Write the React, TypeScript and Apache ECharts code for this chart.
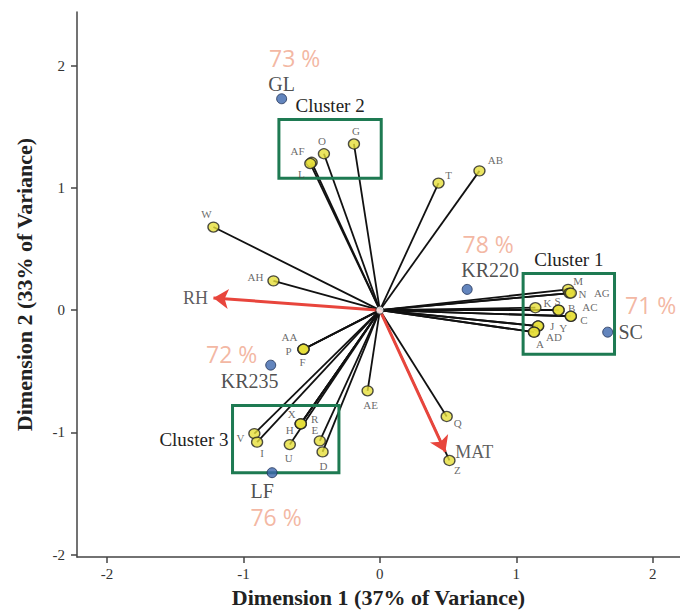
import React, { useEffect, useRef } from 'react';
import * as echarts from 'echarts';

// ---------- data ----------
const pointNames = ['G','O','AF','L','T','AB','W','AH','AA','P','F','AE','Q','Z','M','N','AG','K','S','B','AC','C','J','Y','AD','A','V','I','X','H','R','E','U','D'];
const dim1 = [-0.19,-0.41,-0.50,-0.51,0.43,0.73,-1.22,-0.78,-0.56,-0.56,-0.56,-0.09,0.49,0.51,1.38,1.39,1.40,1.14,1.31,1.31,1.40,1.40,1.16,1.16,1.13,1.13,-0.92,-0.90,-0.58,-0.58,-0.58,-0.44,-0.66,-0.42];
const dim2 = [1.36,1.28,1.21,1.20,1.04,1.14,0.68,0.24,-0.32,-0.32,-0.32,-0.66,-0.87,-1.23,0.17,0.14,0.14,0.02,0.00,0.00,-0.05,-0.05,-0.13,-0.13,-0.18,-0.18,-1.01,-1.08,-0.93,-0.93,-0.93,-1.07,-1.10,-1.16];

const siteNames = ['GL','KR220','SC','KR235','LF'];
const siteDim1 = [-0.72,0.64,1.67,-0.80,-0.79];
const siteDim2 = [1.73,0.17,-0.18,-0.45,-1.33];
const sitePercent = ['73 %','78 %','71 %','72 %','76 %'];

const vectorNames = ['RH','MAT'];
const vectorDim1 = [-1.22,0.48];
const vectorDim2 = [0.10,-1.16];

const clusterNames = ['Cluster 1','Cluster 2','Cluster 3'];
const clusterX0 = [1.05,-0.74,-1.08];
const clusterX1 = [1.72,0.01,-0.30];
const clusterY0 = [-0.36,1.08,-1.33];
const clusterY1 = [0.30,1.56,-0.78];

const axisTicks = [-2,-1,0,1,2];

// ---------- label placement (pixel offsets, style only) ----------
const pointLabelOffset: Record<string, [number, number]> = {
  G:[2,-13], O:[-2,-13], AF:[-14,-11], L:[-9,10], T:[10,-8], AB:[16,-11],
  W:[-7,-13], AH:[-18,-4], AA:[-14,-12], P:[-15,2], F:[-1,13], AE:[3,14],
  Q:[11,7], Z:[8,10], M:[10,-8], N:[13,1], AG:[31,0], K:[12,-5], S:[-1,-9],
  B:[13,-2], AC:[19,-9], C:[13,4], J:[14,0], Y:[25,2], AD:[20,5], A:[6,12],
  V:[-14,4], I:[5,11], X:[-9,-10], H:[-11,6], R:[14,-5], E:[-5,-11], U:[-1,13], D:[1,14],
};
const siteLabelOffset: [number, number][] = [[0,-15],[23,-19],[23,0],[-21,16],[-10,18]];
const percentOffset: [number, number][] = [[13,-41],[21,-45],[43,-27],[-39,-11],[4,44]];
const vectorLabelOffset: [number, number][] = [[-18,0],[29,0]];
const clusterLabelSide = ['top','top','left'];

const SERIF = '"Liberation Serif", "DejaVu Serif", serif';
const SANS = '"Open Sans", "DejaVu Sans", sans-serif';

export default function App() {
  const ref = useRef<HTMLDivElement>(null);
  useEffect(() => {
    if (!ref.current) return;
    const chart = echarts.init(ref.current, null, { renderer: 'svg' });

    const textOnly = {
      type: 'scatter', symbol: 'circle', symbolSize: 1, silent: true,
      itemStyle: { color: 'rgba(0,0,0,0)', borderWidth: 0 },
    };

    const option: any = {
      animation: false,
      backgroundColor: '#ffffff',
      grid: { left: 77, right: 0, top: 12, bottom: 55, outerBoundsMode: 'none', containLabel: false },
      xAxis: {
        type: 'value', min: -2.22, max: 2.2,
        name: 'Dimension 1 (37% of Variance)', nameLocation: 'middle', nameGap: 29,
        nameTextStyle: { fontFamily: SERIF, fontWeight: 'bold', fontSize: 22, color: '#222' },
        axisLine: { show: true, onZero: false, lineStyle: { color: '#444', width: 1.5 } },
        axisTick: { show: true, length: 6, customValues: axisTicks, lineStyle: { color: '#444', width: 1.5 } },
        axisLabel: { customValues: axisTicks, margin: 9, fontFamily: SERIF, fontSize: 15, color: '#333' },
        splitLine: { show: false },
      },
      yAxis: {
        type: 'value', min: -2.02, max: 2.44,
        name: 'Dimension 2 (33% of Variance)', nameLocation: 'middle', nameGap: 42,
        nameTextStyle: { fontFamily: SERIF, fontWeight: 'bold', fontSize: 22, color: '#222' },
        axisLine: { show: true, onZero: false, lineStyle: { color: '#444', width: 1.5 } },
        axisTick: { show: true, length: 6, customValues: axisTicks, lineStyle: { color: '#444', width: 1.5 } },
        axisLabel: { customValues: axisTicks, margin: 12, fontFamily: SERIF, fontSize: 15, color: '#333' },
        splitLine: { show: false },
      },
      series: [
        {
          type: 'lines', coordinateSystem: 'cartesian2d', silent: true, z: 2,
          lineStyle: { color: '#111', width: 1.8, opacity: 1 },
          data: pointNames.map((n, i) => ({ coords: [[0, 0], [dim1[i], dim2[i]]] })),
        },
        {
          type: 'custom', z: 3, silent: true,
          data: clusterNames.map((n, i) => [clusterX0[i], clusterY0[i], clusterX1[i], clusterY1[i], i]),
          renderItem: (params: any, api: any) => {
            const p0 = api.coord([api.value(0), api.value(3)]);
            const p1 = api.coord([api.value(2), api.value(1)]);
            const idx = api.value(4);
            const side = clusterLabelSide[idx];
            const w = p1[0] - p0[0];
            const h = p1[1] - p0[1];
            const tx = side === 'left' ? p0[0] - 4 : p0[0] + w / 2;
            const ty = side === 'left' ? p0[1] + h / 2 : p0[1] - 14;
            return {
              type: 'group',
              children: [
                { type: 'rect', shape: { x: p0[0], y: p0[1], width: w, height: h },
                  style: { fill: 'none', stroke: '#1E7A52', lineWidth: 3 } },
                { type: 'text', x: tx, y: ty,
                  style: { text: clusterNames[idx], fill: '#222', font: `19px ${SERIF}`,
                    align: side === 'left' ? 'right' : 'center', verticalAlign: 'middle' } },
              ],
            };
          },
        },
        {
          type: 'lines', coordinateSystem: 'cartesian2d', silent: true, z: 4,
          symbol: ['none', 'arrow'], symbolSize: [12, 15],
          lineStyle: { color: '#E8453C', width: 3, opacity: 1 },
          data: vectorNames.map((n, i) => ({ coords: [[0, 0], [vectorDim1[i], vectorDim2[i]]] })),
        },
        {
          ...textOnly, z: 5,
          label: {
            show: true, formatter: '{b}', position: 'inside', align: 'center', verticalAlign: 'middle',
            fontFamily: SERIF, fontSize: 18, color: '#333',
          },
          data: vectorNames.map((n, i) => ({ value: [vectorDim1[i], vectorDim2[i]], name: n, label: { offset: vectorLabelOffset[i] } })),
        },
        {
          type: 'scatter', z: 6, symbol: 'circle', symbolSize: [11, 10], silent: true,
          itemStyle: { color: '#E6DF3A', borderColor: '#222', borderWidth: 1.3 },
          label: {
            show: true, formatter: '{b}', position: 'inside', align: 'center', verticalAlign: 'middle',
            fontFamily: SERIF, fontSize: 11, color: '#444',
          },
          data: pointNames.map((n, i) => ({ value: [dim1[i], dim2[i]], name: n, label: { offset: pointLabelOffset[n] || [0, 0] } })),
        },
        {
          type: 'scatter', z: 6, symbol: 'circle', symbolSize: 10, silent: true,
          itemStyle: { color: '#3C66AC', borderColor: '#1E2F55', borderWidth: 1 },
          label: {
            show: true, formatter: '{b}', position: 'inside', align: 'center', verticalAlign: 'middle',
            fontFamily: SERIF, fontSize: 20, color: '#222',
          },
          data: siteNames.map((n, i) => ({ value: [siteDim1[i], siteDim2[i]], name: n, label: { offset: siteLabelOffset[i] } })),
        },
        {
          ...textOnly, z: 7,
          label: {
            show: true, formatter: '{b}', position: 'inside', align: 'center', verticalAlign: 'middle',
            fontFamily: SANS, fontSize: 23, color: '#F0A58B',
          },
          data: siteNames.map((n, i) => ({ value: [siteDim1[i], siteDim2[i]], name: sitePercent[i], label: { offset: percentOffset[i] } })),
        },
        {
          type: 'scatter', z: 8, symbol: 'circle', symbolSize: 8, silent: true,
          itemStyle: { color: '#fff', borderColor: '#222', borderWidth: 1 },
          data: [[0, 0]],
        },
      ],
    };

    chart.setOption(option);
    return () => chart.dispose();
  }, []);
  return <div ref={ref} style={{ position: 'fixed', left: 0, top: 0, width: 680, height: 612 }} />;
}
